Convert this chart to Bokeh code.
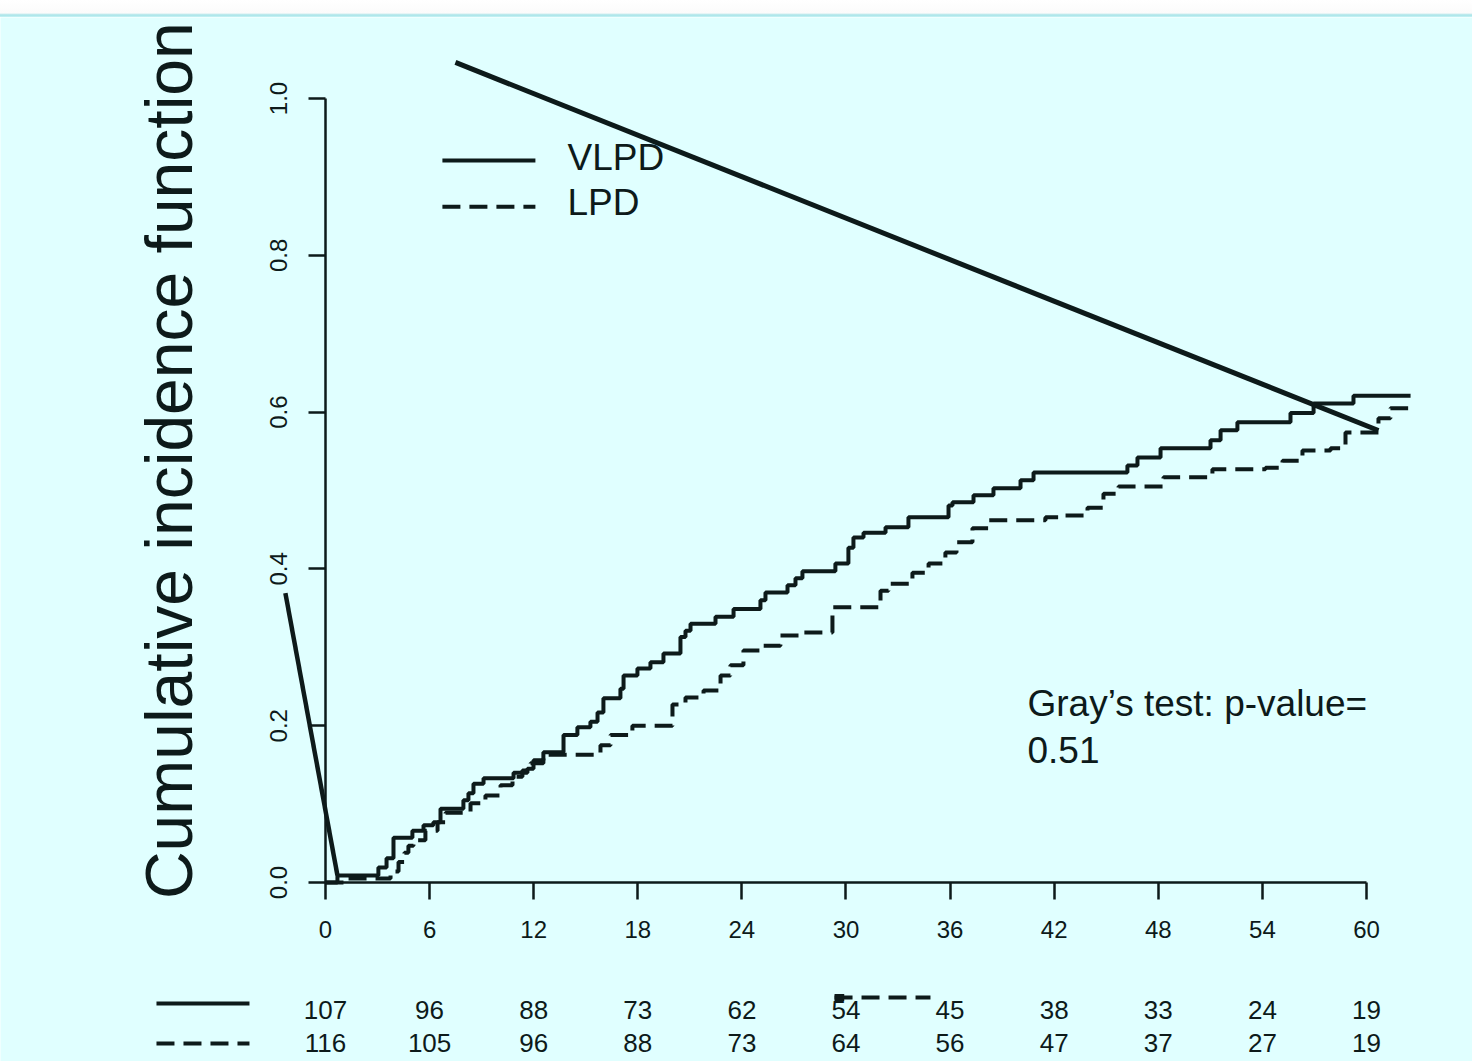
from math import pi
from bokeh.plotting import figure
from bokeh.models import Range1d, LinearAxis, FixedTicker, PrintfTickFormatter, Div, ColumnDataSource
from bokeh.layouts import column
from bokeh.embed import file_html
from bokeh.resources import INLINE
from bokeh.core.properties import value

# ---------------- data ----------------
vlpd_time = [0, 0.69, 3.05, 3.52, 3.92, 5.01, 5.65, 6.22, 6.63, 7.95, 8.24, 8.53, 9.11, 10.84, 11.64,
             11.99, 12.56, 13.72, 14.52, 15.27, 15.68, 16.02, 17.00, 17.18, 17.98, 18.73, 19.48, 20.46,
             20.75, 21.04, 22.48, 23.52, 25.07, 25.36, 26.63, 27.09, 27.49, 29.39, 30.14, 30.43, 31.01,
             32.28, 33.60, 35.91, 36.14, 37.35, 38.50, 40.06, 40.81, 46.22, 46.80, 48.13, 51.01, 51.59,
             52.56, 55.62, 56.95, 59.25, 62.54]
vlpd_cif = [0, 0.009, 0.019, 0.031, 0.057, 0.066, 0.073, 0.077, 0.094, 0.105, 0.114, 0.126, 0.133, 0.140,
            0.145, 0.156, 0.166, 0.188, 0.198, 0.205, 0.217, 0.235, 0.247, 0.264, 0.273, 0.281, 0.292,
            0.313, 0.321, 0.330, 0.339, 0.349, 0.360, 0.370, 0.379, 0.388, 0.397, 0.407, 0.427, 0.440,
            0.446, 0.453, 0.466, 0.481, 0.485, 0.494, 0.503, 0.513, 0.523, 0.532, 0.542, 0.554, 0.564,
            0.577, 0.587, 0.599, 0.611, 0.621, 0.621]

lpd_time = [0, 1.15, 3.75, 4.21, 4.55, 4.78, 5.07, 5.76, 6.46, 6.92, 8.36, 9.22, 10.09, 10.78, 11.35,
            11.82, 12.56, 15.85, 16.43, 17.69, 20.00, 20.75, 21.79, 22.77, 23.34, 24.09, 25.19, 26.22,
            27.38, 29.22, 31.99, 32.45, 33.83, 34.76, 35.73, 36.37, 37.29, 38.21, 41.50, 42.48, 43.92,
            44.84, 45.71, 48.30, 51.12, 54.18, 55.16, 56.31, 57.93, 58.79, 60.69, 61.38, 62.54]
lpd_cif = [0, 0.005, 0.014, 0.026, 0.038, 0.047, 0.054, 0.066, 0.077, 0.089, 0.101, 0.111, 0.124, 0.135,
           0.143, 0.152, 0.163, 0.175, 0.188, 0.200, 0.227, 0.236, 0.245, 0.264, 0.277, 0.296, 0.302,
           0.315, 0.319, 0.351, 0.372, 0.381, 0.395, 0.407, 0.421, 0.434, 0.452, 0.462, 0.466, 0.468,
           0.478, 0.496, 0.505, 0.517, 0.527, 0.529, 0.538, 0.551, 0.554, 0.574, 0.592, 0.605, 0.605]

x_ticks = [0, 6, 12, 18, 24, 30, 36, 42, 48, 54, 60]
y_ticks = [0.0, 0.2, 0.4, 0.6, 0.8, 1.0]

risk_times = [0, 6, 12, 18, 24, 30, 36, 42, 48, 54, 60]
risk_vlpd = [107, 96, 88, 73, 62, 54, 45, 38, 33, 24, 19]
risk_lpd = [116, 105, 96, 88, 73, 64, 56, 47, 37, 27, 19]

series_names = ["VLPD", "LPD"]
y_title = "Cumulative incidence function"
test_text = ["Gray\u2019s test: p-value=", "0.51"]

# stray strokes present in the picture
stray_diag_x = [7.49, 60.69]
stray_diag_y = [1.046, 0.5765]
stray_left_x = [-2.31, 0.69]
stray_left_y = [0.369, 0.009]
stray_dash_x = [29.34, 34.87]
stray_dash_y = [-0.1467, -0.1467]

# ---------------- figure ----------------
INK = "#0d1a1a"
BG = "#e0ffff"
FONT = value("Liberation Sans")

p = figure(width=1472, height=1044, x_range=Range1d(-18.73, 66.11), y_range=Range1d(-0.2283, 1.1033),
           output_backend="svg", toolbar_location=None, x_axis_location=None, y_axis_location=None,
           min_border=0, background_fill_color=BG, border_fill_color=BG, outline_line_color=None,
           title=None)
p.grid.visible = False

xaxis = LinearAxis(fixed_location=0, bounds=(0, 60), ticker=FixedTicker(ticks=x_ticks))
yaxis = LinearAxis(fixed_location=0, bounds=(0, 1), ticker=FixedTicker(ticks=y_ticks),
                   formatter=PrintfTickFormatter(format="%.1f"), major_label_orientation="vertical")
for ax, so in ((xaxis, 21), (yaxis, 21)):
    ax.axis_line_width = 2.5
    ax.axis_line_color = INK
    ax.major_tick_line_width = 2.5
    ax.major_tick_line_color = INK
    ax.major_tick_in = 0
    ax.major_tick_out = 17
    ax.minor_tick_out = 0
    ax.minor_tick_in = 0
    ax.major_label_text_font = "Liberation Sans"
    ax.major_label_text_font_size = "24px"
    ax.major_label_text_color = INK
    ax.major_label_standoff = so
p.add_layout(xaxis, "below")
p.add_layout(yaxis, "left")

# curves
p.step(vlpd_time, vlpd_cif, mode="after", line_width=4, line_color=INK)
p.step(lpd_time, lpd_cif, mode="after", line_width=4, line_color=INK, line_dash="18 9")

# stray strokes
p.line(stray_diag_x, stray_diag_y, line_width=5, line_color=INK)
p.line(stray_left_x, stray_left_y, line_width=4.5, line_color=INK)
p.line(stray_dash_x, stray_dash_y, line_width=4, line_color=INK, line_dash="18 9")
p.line(stray_dash_x[:1] + [29.9], stray_dash_y, line_width=7, line_color=INK)

# legend (top)
p.line([6.74, 12.10], [0.921, 0.921], line_width=4, line_color=INK)
p.line([6.74, 12.10], [0.862, 0.862], line_width=4, line_color=INK, line_dash="18 9")
p.text(x=[13.95, 13.95], y=[0.925, 0.867], text=series_names, text_font=FONT, text_font_size="37px",
       text_color=INK, text_baseline="alphabetic", text_align="left")

# Gray's test
p.text(x=[40.46, 40.46], y=[0.2284, 0.1684], text=test_text, text_font=FONT, text_font_size="37px",
       text_color=INK, text_baseline="alphabetic", text_align="left")

# y title
p.text(x=[-9.0], y=[0.538], text=[y_title], angle=pi / 2, text_font=FONT, text_font_size="66px",
       text_color=INK, text_baseline="alphabetic", text_align="center")

# risk table
src = ColumnDataSource(dict(t=risk_times, a=[str(v) for v in risk_vlpd], b=[str(v) for v in risk_lpd]))
p.text(x="t", y=-0.162, text="a", source=src, text_font=FONT, text_font_size="26px", text_color=INK,
       text_baseline="alphabetic", text_align="center")
p.text(x="t", y=-0.2041, text="b", source=src, text_font=FONT, text_font_size="26px", text_color=INK,
       text_baseline="alphabetic", text_align="center")
p.line([-9.74, -4.38], [-0.1543, -0.1543], line_width=4, line_color=INK)
p.line([-9.74, -4.38], [-0.2054, -0.2054], line_width=4, line_color=INK, line_dash="18 9")

band = Div(width=1472, height=17, styles={
    "background": "linear-gradient(to bottom, #ffffff 0px, #fbfbfb 13px, #a6e3e8 15px, #c8f3f5 17px)",
    "margin": "0", "padding": "0"})

layout = column(band, p, spacing=0)
open("out.html", "w").write(file_html(layout, INLINE))
